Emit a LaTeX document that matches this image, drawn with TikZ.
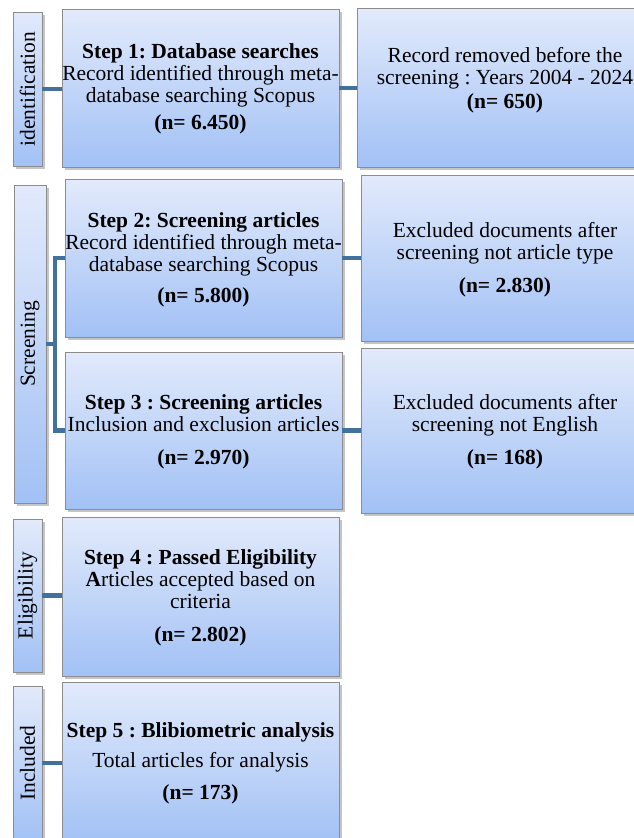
\documentclass[tikz,border=0pt]{standalone}
\usepackage{fontspec}
\setmainfont{Liberation Serif}
\usetikzlibrary{shadows}
\frenchspacing
\definecolor{topc}{RGB}{226,234,251}
\definecolor{botc}{RGB}{162,193,245}
\definecolor{boxgray}{RGB}{140,140,140}
\definecolor{linkc}{RGB}{65,113,156}
\tikzset{
  box/.style={draw=boxgray, line width=0.9pt, top color=topc, bottom color=botc,
    drop shadow={shadow xshift=2.5pt, shadow yshift=-2.5pt, fill=black!45, opacity=0.5},
    inner sep=0pt, outer sep=0pt},
  txt/.style={align=center, font=\fontsize{21.5}{22}\selectfont, inner sep=0pt, outer sep=0pt},
  vtxt/.style={rotate=90, font=\fontsize{21.5}{22}\selectfont, inner sep=0pt},
  link/.style={draw=linkc, line width=4.5pt},
}
\begin{document}
\begin{tikzpicture}[x=1pt,y=-1pt]
\useasboundingbox (0,0) rectangle (634,838);
\clip (0,0) rectangle (634,838);
% phase boxes
\node[box, minimum width=29pt, minimum height=154pt] (id)  at (27.5,89) {};
\node[box, minimum width=32pt, minimum height=318pt] (scr) at (30,344) {};
\node[box, minimum width=29pt, minimum height=153pt] (eli) at (27.5,595.5) {};
\node[box, minimum width=29pt, minimum height=154pt] (inc) at (27.5,763) {};
% step boxes
\node[box, minimum width=277pt, minimum height=158pt] (s1) at (200.5,88) {};
\node[box, minimum width=277pt, minimum height=158pt] (s2) at (203.5,258) {};
\node[box, minimum width=277pt, minimum height=157pt] (s3) at (203.5,430.5) {};
\node[box, minimum width=277pt, minimum height=159pt] (s4) at (200.5,596.5) {};
\node[box, minimum width=277pt, minimum height=160pt] (s5) at (200.5,762) {};
% right boxes
\node[box, minimum width=296pt, minimum height=159pt] (r1) at (505,87.5) {};
\node[box, minimum width=292pt, minimum height=166pt] (r2) at (507,258) {};
\node[box, minimum width=292pt, minimum height=165pt] (r3) at (507,430.5) {};
% connectors
\coordinate (br) at (55,344);
\draw[link] (id.east) -- (id.east -| s1.west);
\draw[link] (s1.east) -- (s1.east -| r1.west);
\draw[link] (scr.east) -- (br);
\draw[link] (s2.west) -- (s2.west -| br) -- (s3.west -| br) -- (s3.west);
\draw[link] (s2.east) -- (s2.east -| r2.west);
\draw[link] (s3.east) -- (s3.east -| r3.west);
\draw[link] (eli.east) -- (eli.east -| s4.west);
\draw[link] (inc.east) -- (inc.east -| s5.west);
% phase labels
\node[vtxt] (idt)  at (id.center)  {identification};
\node[vtxt] (scrt) at (scr.center) {Screening};
\node[vtxt] (elit) at (eli.center) {Eligibility};
\node[vtxt] (inct) at (inc.center) {Included};
% step texts
\node[txt] (s1t) at (200.5,89.2) {\textbf{Step 1: Database searches}\\Record identified through meta-\\database searching Scopus\\[5pt]\textbf{(n= 6.450)}};
\node[txt] (s2t) at (203.5,259.7) {\textbf{Step 2: Screening articles}\\Record identified through meta-\\database searching Scopus\\[9pt]\textbf{(n= 5.800)}};
\node[txt] (s3t) at (203.5,432.2) {\textbf{Step 3 : Screening articles}\\Inclusion and exclusion articles\\[11pt]\textbf{(n= 2.970)}};
\node[txt] (s4t) at (200.5,598.2) {\textbf{Step 4 : Passed Eligibility}\\\textbf{A}rticles accepted based on\\criteria\\[11pt]\textbf{(n= 2.802)}};
\node[txt] (s5t) at (200.5,763.7) {\textbf{Step 5 : Blibiometric analysis}\\[8pt]Total articles for analysis\\[10pt]\textbf{(n= 173)}};
\node[txt] (r1t) at (505,80.2) {Record removed before the\\screening : Years 2004 - 2024\\[2pt]\textbf{(n= 650)}};
\node[txt] (r2t) at (505,260.2) {Excluded documents after\\screening not article type\\[11pt]\textbf{(n= 2.830)}};
\node[txt] (r3t) at (505,432.2) {Excluded documents after\\screening not English\\[11pt]\textbf{(n= 168)}};
\end{tikzpicture}
\end{document}
